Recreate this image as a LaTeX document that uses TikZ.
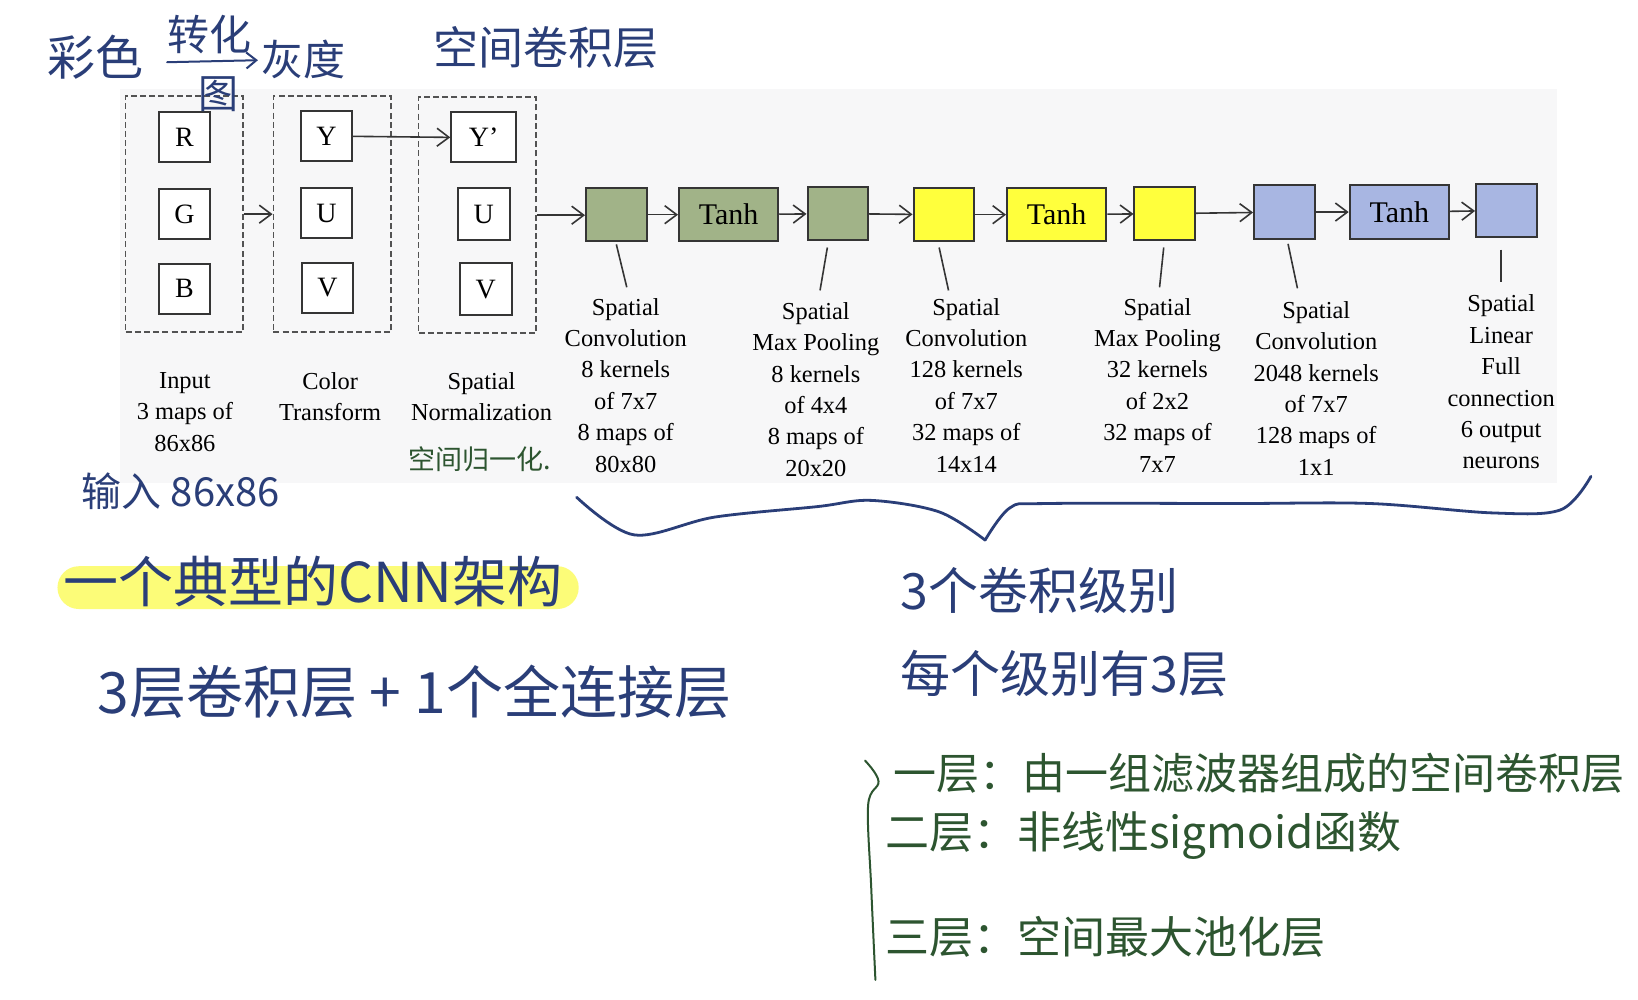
\documentclass[tikz,border=0pt]{standalone}
\usepackage{fontspec}
\setmainfont{Liberation Serif}
\newfontfamily\hand{Noto Sans CJK SC}
\usetikzlibrary{positioning, arrows.meta, calc}
\definecolor{convGreen}{HTML}{A1B388}
\definecolor{convYellow}{HTML}{FFFF3C}
\definecolor{convBlue}{HTML}{A8B6E2}
\definecolor{edgeGray}{HTML}{353535}
\definecolor{penBlue}{HTML}{2A3E78}
\definecolor{penGreen}{HTML}{2D5530}
\definecolor{markYellow}{HTML}{FCFC78}
\definecolor{paperGray}{HTML}{F7F7F8}

\begin{document}
\begin{tikzpicture}[x=0.5223pt, y=-0.5223pt,
    chan/.style={draw=edgeGray, line width=1pt, fill=white, minimum width=25.6pt, minimum height=25pt,
      inner sep=0pt, font=\fontsize{14}{14}\selectfont},
    group/.style={draw=edgeGray!85, thick, dash pattern=on 3pt off 1.6pt,
      minimum width=58.8pt, minimum height=118pt},
    layer/.style={draw=edgeGray, line width=1pt, minimum width=30.3pt, minimum height=26.6pt, inner sep=0pt},
    act/.style={layer, minimum width=49.6pt, font=\fontsize{15}{15}\selectfont},
    desc/.style={align=center, anchor=north, inner sep=0pt, font=\fontsize{12.2}{15.7}\selectfont},
    arr/.style={-{Straight Barb[length=6pt, width=9pt]}, edgeGray, thick},
    leader/.style={edgeGray, thick},
    pen/.style={font=\hand\fontsize{#1}{#1}\selectfont, inner sep=0pt, anchor=west},
    stroke/.style={line width=1.4pt, line cap=round, line join=round}]
  \useasboundingbox (0,0) rectangle (1568,957);
  \fill[white] (0,0) rectangle (1568,957);
  \fill[paperGray] (115,85) rectangle (1490,462);

  % input / colour transform / normalization
  \node[group] (inp) at (176.5,205) {};
  \node[group] (ct) at (318,205) {};
  \node[group] (sn) at (457,206) {};
  \node[chan] (r) at (176.5,131) {R};
  \node[chan] (g) at (176.5,205) {G};
  \node[chan] (b) at (176.5,276.5) {B};
  \node[chan] (y) at (312.5,130.5) {Y};
  \node[chan] (u) at (312.5,204) {U};
  \node[chan] (v) at (313.5,275.5) {V};
  \node[chan, minimum width=32.4pt] (yn) at (463,131.5) {Y'};
  \node[chan, minimum size=26pt] (un) at (463,205) {U};
  \node[chan, minimum size=26pt] (vn) at (465,277) {V};
  \draw[arr] (inp.east) -- (ct.west);
  \draw[arr] (y.east) -- (yn.west);

  % three stages + full connection
  \node[layer, fill=convGreen] (c1) at (590,205.5) {};
  \node[act, fill=convGreen] (t1) at (697.5,205.5) {Tanh};
  \node[layer, fill=convGreen] (p1) at (802,204.5) {};
  \node[layer, fill=convYellow] (c2) at (903.5,205.5) {};
  \node[act, fill=convYellow] (t2) at (1011.5,205.5) {Tanh};
  \node[layer, fill=convYellow] (p2) at (1115,204.5) {};
  \node[layer, fill=convBlue] (c3) at (1229.5,203) {};
  \node[act, fill=convBlue] (t3) at (1339.5,203) {Tanh};
  \node[layer, fill=convBlue] (fc) at (1442,201.5) {};
  \draw[arr] (sn.east) -- (sn.east -| c1.west);
  \foreach \a/\b in {c1/t1, t1/p1, p1/c2, c2/t2, t2/p2, p2/c3, c3/t3, t3/fc}
    \draw[arr] (\a) -- (\b);

  \node[desc] (inL) at (177,356) {Input\\3 maps of\\86x86};
  \node[desc] (ctL) at (316,356) {Color\\Transform};
  \node[desc] (snL) at (461,356) {Spatial\\Normalization};
  \node[desc] (l1) at (599,285) {Spatial\\Convolution\\8 kernels\\of 7x7\\8 maps of\\80x80};
  \node[desc] (l2) at (781,289) {Spatial\\Max Pooling\\8 kernels\\of 4x4\\8 maps of\\20x20};
  \node[desc] (l3) at (925,285) {Spatial\\Convolution\\128 kernels\\of 7x7\\32 maps of\\14x14};
  \node[desc] (l4) at (1108,285) {Spatial\\Max Pooling\\32 kernels\\of 2x2\\32 maps of\\7x7};
  \node[desc] (l5) at (1260,288) {Spatial\\Convolution\\2048 kernels\\of 7x7\\128 maps of\\1x1};
  \node[desc] (l6) at (1437,282) {Spatial\\Linear\\Full\\connection\\6 output\\neurons};
  \foreach \a/\b/\sa/\sb in {c1/l1/{0,2}/{1,-10}, p1/l2/{-10,6}/{4,-11}, c2/l3/{-4.5,5}/{-17,-7},
      p2/l4/{-1,6}/{2,-10}, c3/l5/{3.5,4}/{-18,-12}, fc/l6/{-5,11}/{0,-12}}
    \draw[leader] ($(\a.south)+(\sa)$) -- ($(\b.north)+(\sb)$);

  % handwritten notes
  \node[pen=24, penBlue] (cai) at (45,55) {彩色};
  \node[pen=21, penBlue] (zh) at (160,33) {转化};
  \node[pen=20, penBlue] (tu) at (190,90) {图};
  \node[pen=21, penBlue] (hui) at (250,57) {灰度};
  \draw[penBlue, stroke, line width=1pt, -{Straight Barb[length=5pt, width=8pt]}]
    ([yshift=-4pt]zh.south west) -- ([yshift=-3pt, xshift=3pt]zh.south east);
  \node[pen=22.5, penBlue] (kj) at (415,45) {空间卷积层};
  \node[pen=13.5, penGreen] (gy) at (391,440) {空间归一化.};
  \node[pen=20, penBlue] (sr) at (78,470) {输入 86x86};

  \node[fill=markYellow, rounded corners=10.7pt, minimum width=260.6pt, minimum height=21.4pt,
    inner sep=0pt] (hl) at (304.5,562.5) {};
  \node[pen=27.5, penBlue] (cnn) at (60,557) {一个典型的CNN架构};
  \node[pen=28.5, penBlue] (ceng) at (93,662) {3层卷积层 + 1个全连接层};
  \node[pen=25, penBlue] (jb) at (862,565) {3个卷积级别};
  \node[pen=25, penBlue] (mg) at (862,645) {每个级别有3层};
  \node[pen=21.5, penGreen] (s1) at (855,740) {一层：由一组滤波器组成的空间卷积层};
  \node[pen=22, penGreen] (s2) at (847,800) {二层：非线性sigmoid函数};
  \node[pen=22, penGreen] (s3) at (847,897) {三层：空间最大池化层};

  % braces
  \draw[penBlue, stroke] plot[smooth, tension=0.55] coordinates
    {(552,476) (607,512) (684,495) (782,485) (834,479) (899,490) (943,517)};
  \draw[penBlue, stroke] plot[smooth, tension=0.55] coordinates
    {(943,517) (967,486) (1002,482) (1183,482) (1312,482) (1429,491) (1494,488) (1523,456)};
  \draw[penGreen, stroke, line width=1pt] plot[smooth, tension=0.6] coordinates
    {(828,728) (841,748) (831,771) (834,850) (838,938)};
\end{tikzpicture}
\end{document}
